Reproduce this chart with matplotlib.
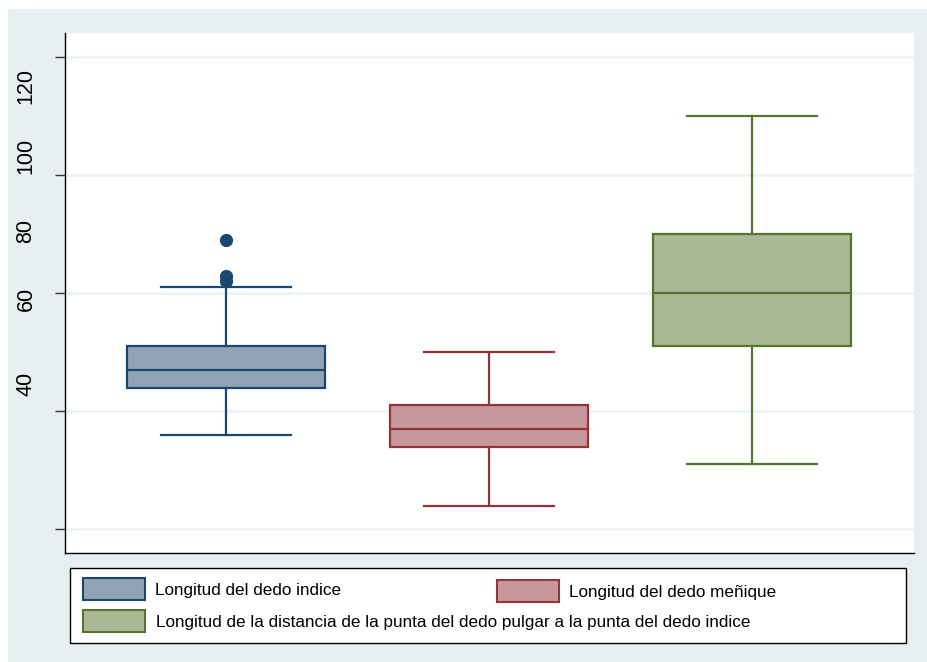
import matplotlib
matplotlib.use("Agg")
import matplotlib.pyplot as plt
from matplotlib.patches import Rectangle

plt.rcParams['font.family'] = ['Liberation Sans', 'DejaVu Sans']

# medidas (mm)
series = [
	"Longitud del dedo indice",
	"Longitud del dedo meñique",
	"Longitud de la distancia de la punta del dedo pulgar a la punta del dedo indice",
]
q1 = [64, 54, 71]
med = [67, 57, 80]
q3 = [71, 61, 90]
whislo = [56, 44, 51]
whishi = [81, 70, 110]
fliers = [[89, 83, 82], [], []]

yticks = [40, 60, 80, 100, 120]
# stata puts the rotated labels a bit off their ticks
ylabel_pos = [64.6, 79.0, 90.5, 103.2, 115.2]

edges = ["#1a476f", "#90353b", "#55752f"]
fills = ["#90a4b6", "#c7989b", "#aab995"]
bg = "#e8eff1"

fig = plt.figure(figsize = (9.27, 6.62), dpi = 100)
fig.patch.set_facecolor("white")
fig.add_artist(Rectangle((8 / 927, 0), 1, 1 - 9 / 662, transform = fig.transFigure, facecolor = bg, edgecolor = "none", zorder = -10))

ax = fig.add_axes([65 / 927, 1 - 553 / 662, 849 / 927, 520 / 662])
ax.set_facecolor("white")

stats = []
for i in range(3):
	stats.append({
		"med": med[i], "q1": q1[i], "q3": q3[i],
		"whislo": whislo[i], "whishi": whishi[i], "fliers": fliers[i],
	})

bp = ax.bxp(stats, positions = [1, 2, 3], widths = 0.753, capwidths = 0.494, patch_artist = True, showfliers = True)
for i in range(3):
	c = edges[i]
	bp["boxes"][i].set(facecolor = fills[i], edgecolor = c, linewidth = 1.6)
	bp["medians"][i].set(color = c, linewidth = 1.6)
	for w in bp["whiskers"][2 * i:2 * i + 2] + bp["caps"][2 * i:2 * i + 2]:
		w.set(color = c, linewidth = 1.6)
	bp["fliers"][i].set(marker = "o", markerfacecolor = c, markeredgecolor = c, markersize = 8.5)

ax.set_xlim(0.388, 3.616)
ax.set_ylim(36.0, 124.1)
ax.set_yticks(yticks)
ax.set_yticklabels([])
ax.set_xticks([])
ax.yaxis.grid(True, color = "#eaf2f3", linewidth = 1.8)
ax.set_axisbelow(True)
ax.tick_params(axis = "y", length = 7, width = 1, color = "#333333")
for s in ("top", "right"):
	ax.spines[s].set_visible(False)
ax.spines["left"].set_linewidth(1)
ax.spines["bottom"].set_linewidth(1)

for v, p in zip(yticks, ylabel_pos):
	ax.text(-0.046, p, str(v), transform = ax.get_yaxis_transform(), rotation = 90, ha = "center", va = "center", fontsize = 15.5)

# legend box drawn by hand so the second row sits under the first column
fig.add_artist(Rectangle((70 / 927, 1 - 643 / 662), 836 / 927, 75 / 662, transform = fig.transFigure, facecolor = "white", edgecolor = "black", linewidth = 1))
legend_items = [
	(83, 578, 155, 590),
	(497, 580, 569, 593),
	(83, 610, 156, 623),
]
for i, (px, py, tx, ty) in enumerate(legend_items):
	fig.add_artist(Rectangle((px / 927, 1 - (py + 22) / 662), 62 / 927, 22 / 662, transform = fig.transFigure, facecolor = fills[i], edgecolor = edges[i], linewidth = 1.5))
	fig.text(tx / 927, 1 - ty / 662, series[i], ha = "left", va = "center", fontsize = 12.3)

fig.savefig("out.png", dpi = 100, facecolor = fig.get_facecolor())
